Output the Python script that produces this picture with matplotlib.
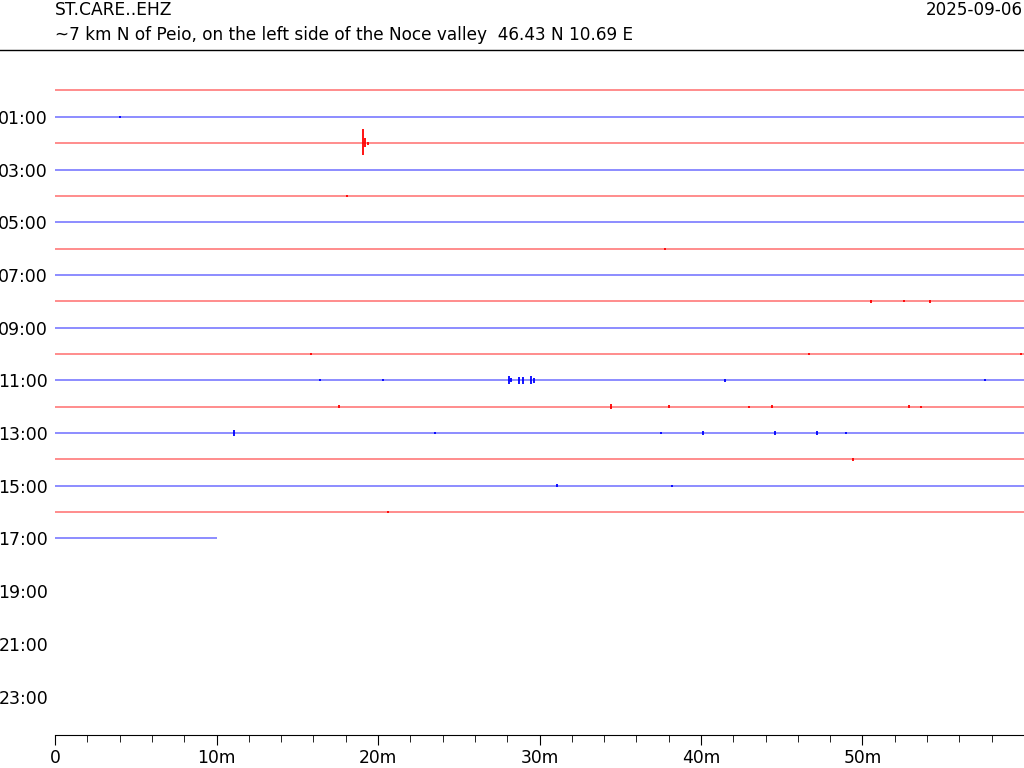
import matplotlib.pyplot as plt
from matplotlib.ticker import MultipleLocator
import numpy as np

station = 'ST.CARE..EHZ'
subtitle = '~7 km N of Peio, on the left side of the Noce valley  46.43 N 10.69 E'
day = '2025-09-06'

# one trace per hour row, with the minute at which each trace ends
rows = list(range(18))
row_end = [60] * 17 + [10]

# visible wiggles: row, minute, excursion up / down (in row heights)
ev_row = [1, 2, 2, 2, 4, 6, 8, 8, 8, 10, 10, 10,
          11, 11, 11, 11, 11, 11, 11, 11, 11, 11,
          12, 12, 12, 12, 12, 12, 12,
          13, 13, 13, 13, 13, 13, 13,
          14, 15, 15, 16]
ev_min = [4.0, 19.07, 19.2, 19.35, 18.1, 37.8, 50.5, 52.6, 54.2, 15.85, 46.7, 59.8,
          16.4, 20.3, 28.1, 28.25, 28.7, 29.0, 29.5, 29.65, 41.5, 57.6,
          17.6, 34.4, 38.0, 43.0, 44.4, 52.9, 53.6,
          11.1, 23.5, 37.5, 40.1, 44.6, 47.2, 49.0,
          49.4, 31.1, 38.2, 20.6]
ev_up = [0.04, 0.53, 0.18, 0.06, 0.05, 0.04, 0.05, 0.04, 0.05, 0.04, 0.04, 0.05,
         0.04, 0.04, 0.16, 0.08, 0.12, 0.12, 0.16, 0.1, 0.05, 0.04,
         0.05, 0.1, 0.05, 0.04, 0.05, 0.05, 0.04,
         0.1, 0.04, 0.04, 0.06, 0.06, 0.07, 0.04,
         0.05, 0.05, 0.04, 0.05]
ev_down = [0.04, 0.46, 0.15, 0.06, 0.05, 0.04, 0.05, 0.04, 0.05, 0.04, 0.04, 0.05,
           0.04, 0.04, 0.15, 0.08, 0.12, 0.12, 0.15, 0.1, 0.05, 0.04,
           0.05, 0.1, 0.05, 0.04, 0.05, 0.05, 0.04,
           0.1, 0.04, 0.04, 0.06, 0.06, 0.07, 0.04,
           0.05, 0.05, 0.04, 0.05]

hour_ticks = list(range(1, 24, 2))
hour_labels = ['{:02d}:00'.format(h) for h in hour_ticks]
min_ticks = [0, 10, 20, 30, 40, 50]
min_labels = ['0', '10m', '20m', '30m', '40m', '50m']

fig = plt.figure(figsize=(10.24, 7.68), dpi=100)
ax_top = 90.5 - 26.35   # pixel row of y = -1
ax = fig.add_axes([55 / 1024, 33 / 768, 1 - 55 / 1024, (735 - ax_top) / 768])

def row_color(r):
    return 'red' if r % 2 == 0 else 'blue'

for r, end in zip(rows, row_end):
    ax.plot([0, end], [r, r], color=row_color(r), alpha=0.45, lw=1.4,
            solid_capstyle='butt')

for r, m, up, dn in zip(ev_row, ev_min, ev_up, ev_down):
    ax.vlines(m, r - up, r + dn, color=row_color(r), lw=1.3)

ax.set_xlim(0, 60)
ax.set_ylim(24.46, -1.0)
ax.set_xticks(min_ticks)
ax.set_xticklabels(min_labels)
ax.xaxis.set_minor_locator(MultipleLocator(2))
ax.set_yticks(hour_ticks)
ax.set_yticklabels(hour_labels)
ax.tick_params(axis='y', length=0, pad=5, labelsize=12.5)
ax.tick_params(axis='x', which='major', length=7.2, pad=3, labelsize=12.3)
ax.tick_params(axis='x', which='minor', length=4.8)
for s in ['left', 'right', 'top']:
    ax.spines[s].set_visible(False)

fig.text(55 / 1024, 1 - 10 / 768, station, ha='left', va='center', fontsize=12.3)
fig.text(55 / 1024, 1 - 35 / 768, subtitle, ha='left', va='center', fontsize=12.15)
fig.text(1 - 1 / 1024, 1 - 10 / 768, day, ha='right', va='center', fontsize=12.1)
fig.add_artist(plt.Line2D([0, 1], [1 - 50 / 768, 1 - 50 / 768], color='black', lw=1))

fig.savefig('out.png', dpi=100)
